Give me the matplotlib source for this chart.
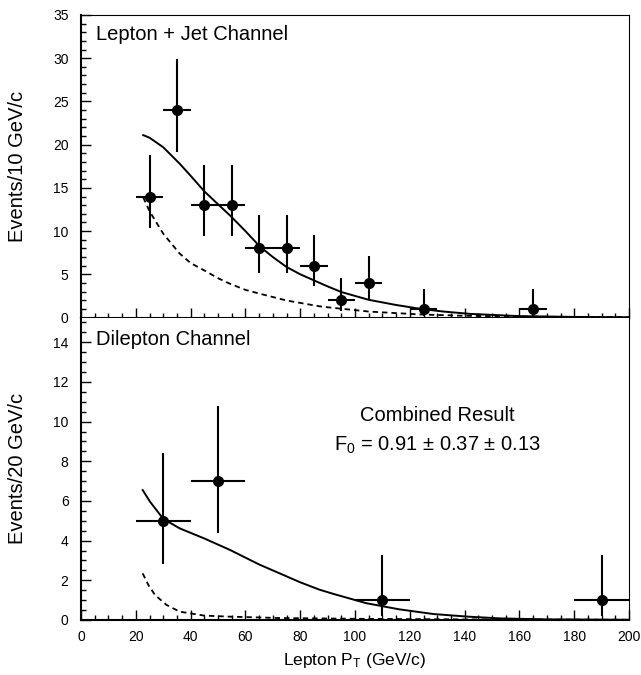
import numpy as np
import matplotlib
matplotlib.use("Agg")
import matplotlib.pyplot as plt
from matplotlib.ticker import MultipleLocator

plt.rcParams['font.family'] = ['Liberation Sans', 'DejaVu Sans']
plt.rcParams['mathtext.fontset'] = 'custom'
plt.rcParams['mathtext.rm'] = 'Liberation Sans'
plt.rcParams['mathtext.it'] = 'Liberation Sans'

# lepton + jet channel, 10 GeV bins
lj_x = [25, 35, 45, 55, 65, 75, 85, 95, 105, 125, 165]
lj_y = [14, 24, 13, 13, 8, 8, 6, 2, 4, 1, 1]
lj_lo = [10.3, 19.1, 9.4, 9.4, 5.2, 5.2, 3.6, 0.7, 2.1, 0.2, 0.2]
lj_hi = [18.8, 29.9, 17.7, 17.7, 11.9, 11.9, 9.6, 4.6, 7.1, 3.3, 3.3]

lj_fit_x = [22.7, 25, 30, 36, 40, 45, 50, 54.4, 60, 65.3, 70, 75, 80, 85, 90, 95, 105, 115, 124, 132, 142, 160, 180, 200]
lj_fit_y = [21.1, 20.8, 19.7, 17.8, 16.4, 14.6, 13.1, 11.8, 10.0, 8.2, 7.0, 5.85, 5.0, 4.3, 3.6, 2.95, 2.05, 1.45, 1.0, 0.7, 0.42, 0.16, 0.07, 0.03]
lj_bg_x = [22.7, 25, 30, 36, 40, 45, 50, 54.4, 60, 65.3, 75, 87, 91, 105, 124, 140, 160, 200]
lj_bg_y = [13.9, 12.3, 9.7, 7.4, 6.3, 5.45, 4.55, 3.9, 3.2, 2.75, 1.97, 1.3, 1.15, 0.69, 0.35, 0.2, 0.1, 0.03]

# dilepton channel, 20 GeV bins
dl_x = [30, 50, 110, 190]
dl_y = [5, 7, 1, 1]
dl_lo = [2.8, 4.4, 0.2, 0.2]
dl_hi = [8.4, 10.8, 3.3, 3.3]

dl_fit_x = [22.5, 25.2, 30, 36, 45, 54.4, 65, 75, 80, 87, 92, 104, 116, 128.6, 141, 153, 170, 200]
dl_fit_y = [6.55, 5.96, 5.1, 4.62, 4.11, 3.53, 2.8, 2.2, 1.9, 1.53, 1.32, 0.85, 0.54, 0.3, 0.17, 0.08, 0.03, 0.01]
dl_bg_x = [22.5, 24.6, 27, 31.2, 36, 45, 54, 72, 100, 140, 200]
dl_bg_y = [2.35, 1.76, 1.26, 0.76, 0.42, 0.22, 0.17, 0.1, 0.06, 0.03, 0.01]

fig = plt.figure(figsize=(6.41, 6.75), dpi=100)
ax1 = fig.add_axes([0.1264, 0.5296, 0.8549, 0.4482])
ax2 = fig.add_axes([0.1264, 0.0815, 0.8549, 0.4481])


def style(ax, ymaj, ymin):
    ax.set_xlim(0, 200)
    ax.xaxis.set_major_locator(MultipleLocator(20))
    ax.xaxis.set_minor_locator(MultipleLocator(5))
    ax.yaxis.set_major_locator(MultipleLocator(ymaj))
    ax.yaxis.set_minor_locator(MultipleLocator(ymin))
    ax.tick_params(which='both', direction='in', top=False, right=False,
                   labelsize=10, width=1.0)
    ax.tick_params(which='major', length=7.5)
    ax.tick_params(which='minor', length=3.8)
    ax.tick_params(axis='y', pad=9)
    ax.tick_params(axis='x', pad=7.5)
    ax.spines['left'].set_linewidth(1.5)
    ax.spines['bottom'].set_linewidth(1.5)
    ax.spines['top'].set_linewidth(0.8)
    ax.spines['right'].set_linewidth(0.8)


style(ax1, 5, 1)
style(ax2, 2, 0.5)
ax1.set_ylim(0, 35)
ax2.set_ylim(0, 15.25)
ax1.tick_params(axis='x', labelbottom=False)
ax2.spines['top'].set_visible(False)

for ax, x, y, lo, hi, xe, fx, fy, bx, by in [
        (ax1, lj_x, lj_y, lj_lo, lj_hi, 5, lj_fit_x, lj_fit_y, lj_bg_x, lj_bg_y),
        (ax2, dl_x, dl_y, dl_lo, dl_hi, 10, dl_fit_x, dl_fit_y, dl_bg_x, dl_bg_y)]:
    ax.plot(fx, fy, color='black', lw=1.4)
    ax.plot(bx, by, color='black', lw=1.3, dashes=(3, 2.2))
    yerr = [np.array(y) - np.array(lo), np.array(hi) - np.array(y)]
    ax.errorbar(x, y, xerr=xe, yerr=yerr, fmt='o', color='black', ms=7,
                elinewidth=1.5, capsize=0, clip_on=False, zorder=5)

ax1.text(5.4, 32.7, 'Lepton + Jet Channel', fontsize=14.5, va='center', ha='left')
ax2.text(5.4, 14.14, 'Dilepton Channel', fontsize=14.5, va='center', ha='left')
ax2.text(130, 10.3, 'Combined Result', fontsize=14.5, va='center', ha='center')
ax2.text(130, 8.8, r'F$_0$ = 0.91 $\pm$ 0.37 $\pm$ 0.13', fontsize=14.5,
         va='center', ha='center')

ax1.set_ylabel('Events/10 GeV/c', fontsize=14.5)
ax2.set_ylabel('Events/20 GeV/c', fontsize=14.5)
ax1.yaxis.set_label_coords(-0.099, 0.5)
ax2.yaxis.set_label_coords(-0.099, 0.5)
ax2.set_xlabel(r'Lepton P$_T$ (GeV/c)', fontsize=12.5)
ax2.xaxis.set_label_coords(0.5, -0.102)

fig.savefig('out.png', dpi=100)
